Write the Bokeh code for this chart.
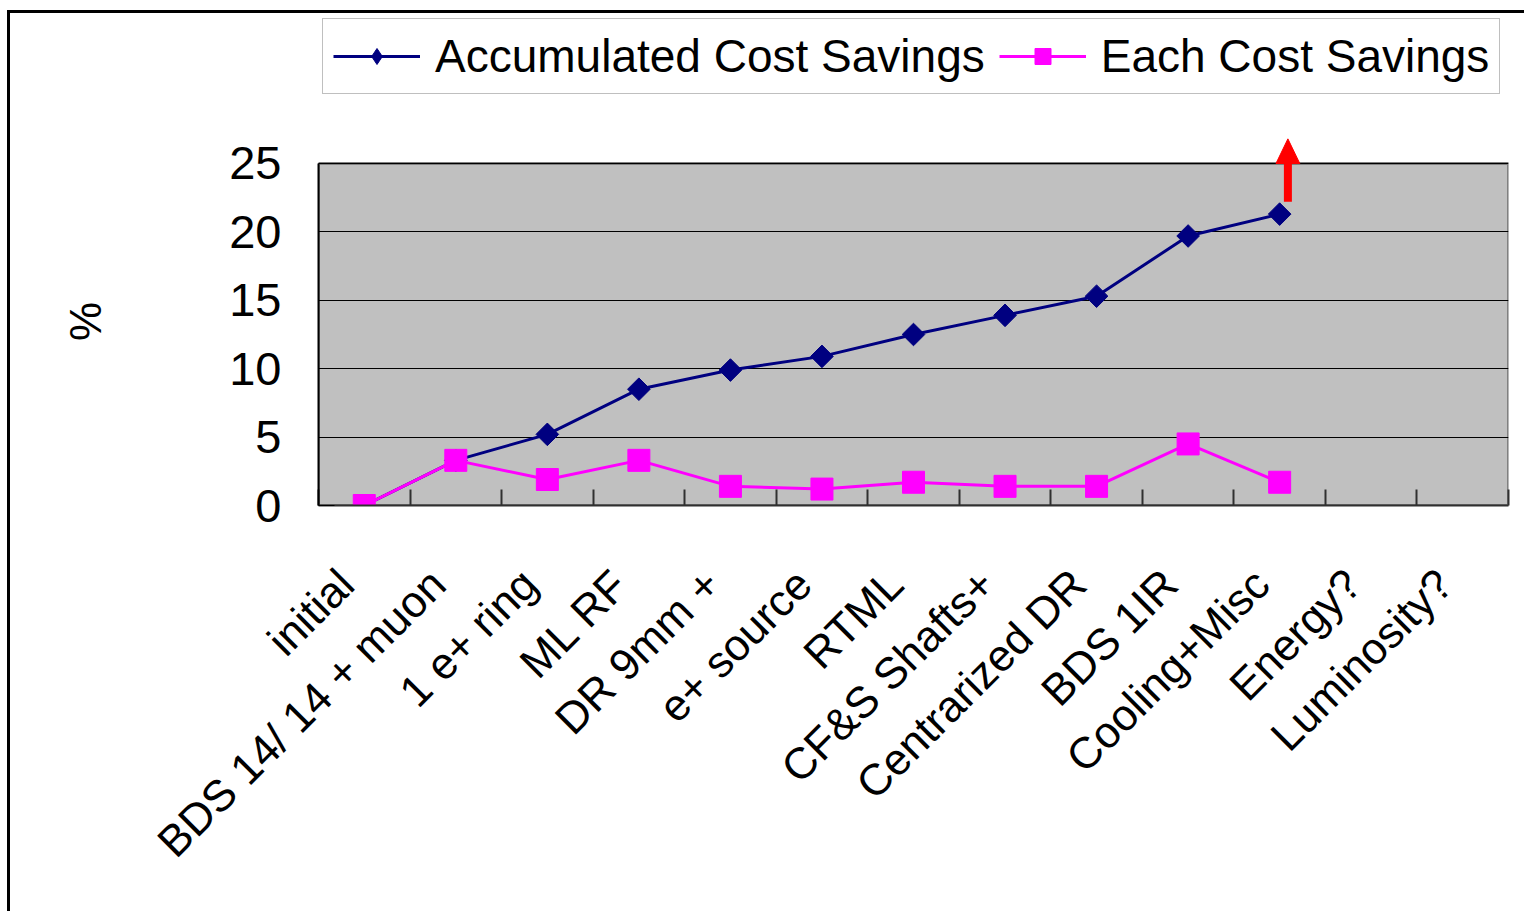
import math
from bokeh.plotting import figure
from bokeh.layouts import column
from bokeh.models import (Range1d, LinearAxis, FixedTicker, BoxAnnotation,
                          Legend, LegendItem, Grid)
from bokeh.embed import file_html
from bokeh.resources import INLINE

# ---- data ----
categories = ["initial", "BDS 14/ 14 + muon", "1 e+ ring", "ML RF", "DR 9mm +",
              "e+ source", "RTML", "CF&S Shafts+", "Centrarized DR", "BDS 1IR",
              "Cooling+Misc", "Energy?", "Luminosity?"]
accumulated = [0, 3.3, 5.2, 8.5, 9.9, 10.9, 12.5, 13.9, 15.3, 19.7, 21.3]
each = [0, 3.3, 1.9, 3.3, 1.4, 1.2, 1.7, 1.4, 1.4, 4.5, 1.7]
series_names = ["Accumulated Cost Savings", "Each Cost Savings"]
y_ticks = [0, 5, 10, 15, 20, 25]
y_min, y_max = 0, 25
arrow_category = "Cooling+Misc"
arrow_from = 22.2
arrow_head_base = 25.0
arrow_to = 26.8

FONT = "Liberation Sans"
NAVY = "#000080"
MAGENTA = "#FF00FF"

n_cat = len(categories)
centers = [i + 0.5 for i in range(n_cat)]
label_pos = [c - 0.2 for c in centers]   # rotated labels sit slightly left of centre

# ---------------- main chart ----------------
# the frame reaches a little above 25 so the red arrow is not clipped;
# the grey plot area itself is drawn for 0..25 only
p = figure(width=1514, height=801,
           x_range=Range1d(0, n_cat), y_range=Range1d(y_min, 26.9),
           output_backend="svg", toolbar_location=None,
           x_axis_location=None, y_axis_location=None,
           min_border_left=308, min_border_right=16,
           min_border_top=27, min_border_bottom=406)
for g in list(p.center):
    g.visible = False

p.background_fill_color = "white"
p.border_fill_color = "white"
p.outline_line_color = None

p.add_layout(BoxAnnotation(left=0, right=n_cat, bottom=y_min, top=y_max,
                           fill_color="#C0C0C0", fill_alpha=1,
                           line_color="#808080", line_alpha=1, line_width=3,
                           level="underlay"))
p.add_layout(Grid(dimension=1, ticker=FixedTicker(ticks=y_ticks),
                  grid_line_color="black", grid_line_width=1))

yaxis = LinearAxis(ticker=FixedTicker(ticks=y_ticks), bounds=(y_min, y_max),
                   major_label_text_font=FONT, major_label_text_font_size="47px",
                   major_label_text_color="black",
                   major_tick_in=16, major_tick_out=0, major_tick_line_color="black",
                   minor_tick_line_color=None,
                   axis_line_color="black", axis_line_width=2,
                   major_label_standoff=37,
                   axis_label="%", axis_label_text_font=FONT,
                   axis_label_text_color="black",
                   axis_label_text_font_size="44px", axis_label_text_font_style="normal",
                   axis_label_standoff=116)
p.add_layout(yaxis, "left")

tick_axis = LinearAxis(ticker=FixedTicker(ticks=list(range(0, n_cat + 1))),
                       major_label_text_font_size="0px", major_label_standoff=0,
                       major_tick_in=16, major_tick_out=0,
                       major_tick_line_color="#303030", major_tick_line_width=2,
                       minor_tick_line_color=None,
                       axis_line_color="#303030", axis_line_width=2)
p.add_layout(tick_axis, "below")

label_axis = LinearAxis(ticker=FixedTicker(ticks=label_pos),
                        major_label_overrides={c: name for c, name in zip(label_pos, categories)},
                        major_label_orientation=math.pi / 4,
                        major_label_text_font=FONT, major_label_text_font_size="44px",
                        major_label_text_color="black",
                        major_tick_line_color=None, minor_tick_line_color=None,
                        axis_line_color=None,
                        major_label_standoff=65)
p.add_layout(label_axis, "below")

xa = centers[:len(accumulated)]
xe = centers[:len(each)]
p.line(x=xa, y=accumulated, line_color=NAVY, line_width=3)
p.scatter(x=xa, y=accumulated, marker="square", angle=math.pi / 4,
          size=16, fill_color=NAVY, line_color=NAVY)
p.line(x=xe, y=each, line_color=MAGENTA, line_width=3)
p.scatter(x=xe, y=each, marker="square", size=22,
          fill_color=MAGENTA, line_color=MAGENTA)

# red arrow (shaft + filled head)
ax = categories.index(arrow_category) + 0.59
hw = 0.13
p.segment(x0=[ax], y0=[arrow_from], x1=[ax], y1=[arrow_head_base],
          line_color="red", line_width=8, line_cap="butt")
p.patch(x=[ax - hw, ax + hw, ax], y=[arrow_head_base, arrow_head_base, arrow_to],
        fill_color="red", line_color="red", line_width=1)

# ---------------- legend strip ----------------
lf = figure(width=1514, height=97, x_range=Range1d(0, 1), y_range=Range1d(-2, -1),
            output_backend="svg", toolbar_location=None,
            x_axis_location=None, y_axis_location=None, min_border=0)
for g in list(lf.center):
    g.visible = False
lf.outline_line_color = None
lf.background_fill_color = "white"
# same series drawn outside the strip's visible range: only their legend glyphs show
ll1 = lf.line(x=xa, y=accumulated, line_color=NAVY, line_width=3)
ls1 = lf.scatter(x=xa, y=accumulated, marker="diamond", size=22,
                 fill_color=NAVY, line_color=NAVY)
ll2 = lf.line(x=xe, y=each, line_color=MAGENTA, line_width=3)
ls2 = lf.scatter(x=xe, y=each, marker="square", size=20,
                 fill_color=MAGENTA, line_color=MAGENTA)
legend = Legend(items=[LegendItem(label=series_names[0], renderers=[ll1, ls1]),
                       LegendItem(label=series_names[1], renderers=[ll2, ls2])],
                orientation="horizontal", location=(4, 16),
                label_text_font=FONT, label_text_font_size="46px",
                label_text_color="black",
                glyph_width=87, glyph_height=40, label_standoff=15,
                spacing=14, padding=10, margin=0,
                border_line_color="#808080", border_line_width=1,
                background_fill_color="white", background_fill_alpha=1)
lf.add_layout(legend, "center")

layout = column(lf, p, spacing=0)
layout.styles = {"margin-left": "7px", "margin-top": "10px",
                 "border-left": "3px solid black", "border-top": "3px solid black"}

open("out.html", "w").write(file_html(layout, INLINE))
